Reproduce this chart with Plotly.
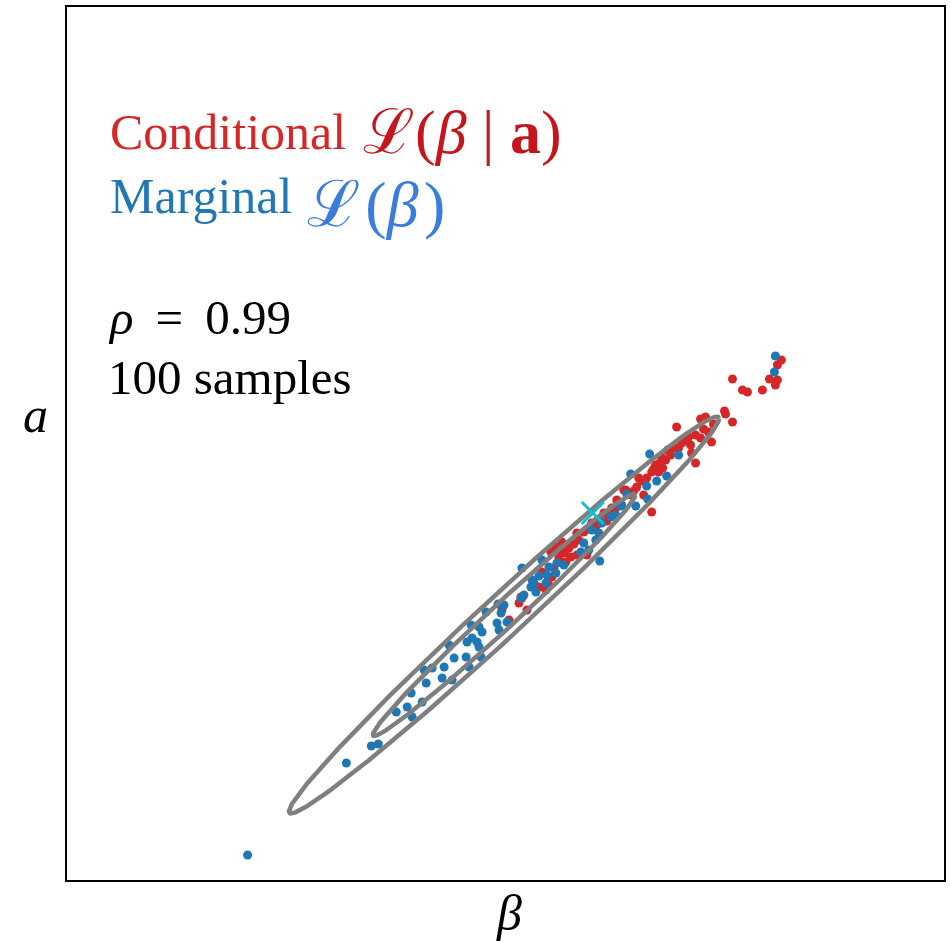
import numpy as np
import plotly.graph_objects as go

# Samples from the conditional distribution L(beta | a)
cond_beta = [7.83, 7.79, 7.71, 7.79, 7.77, 7.34, 7.44, 7.49, 7.64, 7.26, 7.27, 7.34,
             7.07, 7.02, 7.15, 6.78, 6.97, 6.90, 7.02, 7.13, 6.83, 6.75, 6.69, 6.93,
             6.67, 6.61, 6.97, 6.57, 6.64, 6.53, 6.60, 6.43, 6.25, 6.38, 6.33, 6.45,
             6.18, 6.13, 6.53, 6.08, 5.98, 5.85, 5.80, 5.63, 5.57, 5.70, 5.78, 5.88,
             5.52, 5.60, 5.67, 5.72, 5.55, 5.43, 5.53, 5.40, 5.47, 5.22, 5.50, 5.20,
             5.03, 5.10, 5.28, 6.05, 6.17, 5.78, 5.23, 6.27, 5.90, 5.75, 5.62, 6.00,
             6.35, 6.72, 6.48, 6.86, 7.05, 6.63, 6.40, 6.55, 6.92, 6.20, 5.93, 5.66,
             6.10, 7.10, 6.80]
cond_a = [5.81, 5.76, 5.62, 5.61, 5.56, 5.62, 5.51, 5.49, 5.51, 5.30, 5.27, 5.19,
          5.24, 5.22, 5.17, 5.14, 5.06, 5.04, 5.03, 4.99, 4.98, 4.93, 4.91, 4.88,
          4.81, 4.78, 4.78, 4.76, 4.73, 4.69, 4.69, 4.60, 4.51, 4.54, 4.46, 4.46,
          4.41, 4.33, 4.29, 4.20, 4.16, 4.09, 4.01, 3.99, 3.94, 3.93, 3.86, 3.86,
          3.89, 3.83, 3.79, 3.84, 3.73, 3.69, 3.64, 3.54, 3.51, 3.44, 3.56, 3.38,
          3.31, 3.21, 3.31, 4.28, 4.33, 4.08, 3.43, 4.51, 4.12, 3.97, 3.90, 4.22,
          4.50, 4.86, 4.63, 5.00, 5.12, 4.84, 4.63, 4.72, 4.96, 4.38, 4.18, 3.88,
          4.25, 5.09, 4.93]

# Samples from the marginal distribution L(beta)
marg_beta = [7.77, 7.76, 6.51, 6.80, 6.32, 6.68, 6.58, 6.48, 6.28, 6.49, 6.22, 6.37,
             6.17, 6.12, 6.03, 5.93, 6.00, 5.97, 5.85, 5.82, 5.90, 5.43, 6.01, 5.58,
             5.50, 5.23, 5.40, 5.48, 5.33, 5.32, 5.37, 5.25, 5.47, 5.35, 5.57, 5.22,
             5.05, 4.99, 5.02, 5.08, 4.87, 4.98, 5.00, 4.80, 4.72, 4.83, 4.73, 4.78,
             4.80, 4.68, 4.50, 4.55, 4.67, 4.82, 4.45, 4.25, 4.43, 4.33, 4.27, 4.53,
             4.70, 4.12, 4.08, 4.23, 3.97, 4.13, 3.72, 3.79, 3.47, 2.48, 6.23, 5.65]
marg_a = [5.85, 5.69, 4.87, 4.86, 4.67, 4.65, 4.60, 4.55, 4.47, 4.42, 4.35, 4.35,
          4.26, 4.24, 4.18, 4.11, 4.08, 4.01, 3.98, 3.89, 3.91, 3.81, 3.80, 3.78,
          3.74, 3.73, 3.65, 3.66, 3.61, 3.54, 3.49, 3.46, 3.58, 3.58, 3.68, 3.43,
          3.36, 3.37, 3.28, 3.19, 3.29, 3.18, 3.11, 3.14, 3.16, 3.09, 3.03, 2.99,
          2.94, 2.99, 2.96, 2.83, 2.84, 2.84, 2.74, 2.71, 2.63, 2.73, 2.58, 2.61,
          2.74, 2.48, 2.34, 2.39, 2.29, 2.24, 1.95, 1.97, 1.78, 0.86, 4.36, 3.76]

# True parameter value
true_beta = [5.94]
true_a = [4.28]

# Gaussian prior contours
mean = [5.05, 3.26]
sigma = [0.867, 0.798]
rho = 0.99
chi2_levels = [2.30, 6.18]  # 68% and 95% regions for two dimensions

x_range = [0.67, 9.46]
y_range = [0.61, 9.34]

cov = np.array([[sigma[0] ** 2, rho * sigma[0] * sigma[1]],
                [rho * sigma[0] * sigma[1], sigma[1] ** 2]])
chol = np.linalg.cholesky(cov)
t = np.linspace(0, 2 * np.pi, 400)
circle = np.vstack([np.cos(t), np.sin(t)])

fig = go.Figure()

fig.add_trace(go.Scatter(x=cond_beta, y=cond_a, mode="markers",
                         marker=dict(color="#d62728", size=9, line=dict(width=0)),
                         showlegend=False))
fig.add_trace(go.Scatter(x=marg_beta, y=marg_a, mode="markers",
                         marker=dict(color="#1f77b4", size=9, line=dict(width=0)),
                         showlegend=False))

for k in chi2_levels:
    pts = chol @ circle * np.sqrt(k)
    fig.add_trace(go.Scatter(x=pts[0] + mean[0], y=pts[1] + mean[1], mode="lines",
                             line=dict(color="#7f7f7f", width=4.5),
                             showlegend=False))

fig.add_trace(go.Scatter(x=true_beta, y=true_a, mode="markers",
                         marker=dict(symbol="x-thin", size=22, color="#17becf",
                                     line=dict(color="#17becf", width=3)),
                         showlegend=False))

serif = "Liberation Serif, Times New Roman, serif"
W, H = 950, 941
L, R, T, B = 67, 4, 7, 61


def px(xp, yp):
    return (xp - L) / (W - L - R), (H - B - yp) / (H - T - B)


def label(xp, yp, text, size, color, xanchor="left"):
    xx, yy = px(xp, yp)
    fig.add_annotation(x=xx, y=yy, xref="paper", yref="paper", text=text,
                       showarrow=False, xanchor=xanchor, yanchor="middle",
                       font=dict(family=serif, size=size, color=color))


label(108, 132, "Conditional", 50, "#d62728")
label(362, 132, "ℒ(<i>β</i> | <b>a</b>)", 62, "#c4161c")
label(108, 196, "Marginal", 50, "#1f77b4")
label(306, 205, "ℒ\u200a(<i>β</i>\u200a)", 64, "#3b7ddd")
label(106, 318, "<i>ρ</i>\u2009 = \u20090.99", 49, "#000000")
label(106, 377, "100 samples", 49, "#000000")
label(35, 415, "<i>a</i>", 50, "#000000", xanchor="center")
label(510, 913, "<i>β</i>", 50, "#000000", xanchor="center")

axis_style = dict(showline=True, mirror=True, linecolor="black", linewidth=2,
                  showgrid=False, zeroline=False, showticklabels=False, ticks="")
fig.update_xaxes(range=x_range, **axis_style)
fig.update_yaxes(range=y_range, **axis_style)

fig.update_layout(width=W, height=H, margin=dict(l=L, r=R, t=T, b=B),
                  plot_bgcolor="white", paper_bgcolor="white")

fig.write_html("out.html")
